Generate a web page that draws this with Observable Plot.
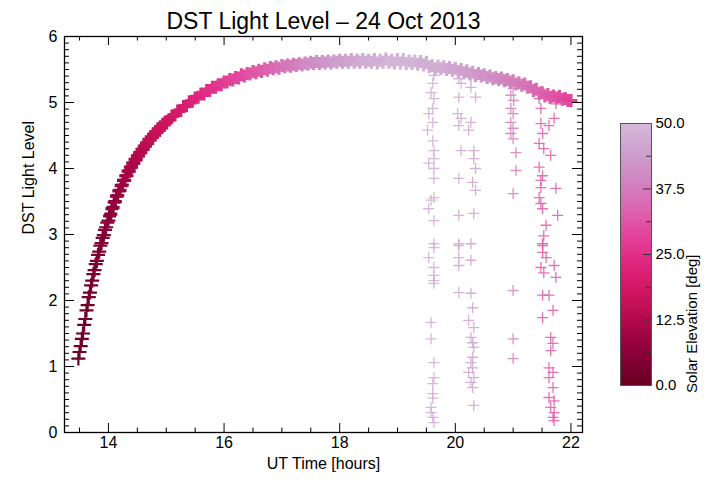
<!DOCTYPE html>
<html><head><meta charset="utf-8">
<script src="https://cdn.jsdelivr.net/npm/d3@7"></script>
<script src="https://cdn.jsdelivr.net/npm/@observablehq/plot@0.6"></script>
<style>
body{margin:0;background:#fff;}
#wrap{position:relative;width:721px;height:487px;}
#wrap svg{position:absolute;left:0;top:0;}
</style></head><body><div id="wrap"></div><script>
// ---------- data ----------
const titleText = "DST Light Level \u2013 24 Oct 2013";
const xLabel = "UT Time [hours]";
const yLabel = "DST Light Level";
const cbLabel = "Solar Elevation [deg]";

const xMajor = [14, 16, 18, 20, 22];
const xMinor = [13.5, 14.5, 15, 15.5, 16.5, 17, 17.5, 18.5, 19, 19.5, 20.5, 21, 21.5];
const yMajor = [0, 1, 2, 3, 4, 5, 6];
const cbMajor = [0, 12.5, 25, 37.5, 50];
const cbMinor = [6.25, 18.75, 31.25, 43.75];

const curveTime = [
 13.48,13.50,13.52,13.54,13.56,13.58,13.60,13.62,13.64,13.66,13.68,13.70,13.72,13.74,13.76,13.78,13.80,13.82,13.84,13.86,13.88,13.90,13.92,13.94,13.96,13.98,14.00,
 14.02,14.04,14.06,14.08,14.10,14.12,14.14,14.16,14.18,14.20,14.22,14.24,14.26,14.28,14.30,14.32,14.34,14.36,14.38,14.40,
 14.42,14.44,14.46,14.48,14.50,14.52,14.54,14.56,14.58,14.60,14.62,14.64,14.66,14.68,14.70,14.72,14.74,14.76,14.78,14.80,
 14.82,14.84,14.86,14.88,14.90,14.92,14.94,14.96,14.98,15.00,
 15.05,15.10,15.15,15.20,15.25,15.30,15.35,15.40,15.45,15.50,
 15.55,15.60,15.65,15.70,15.75,15.80,15.85,15.90,15.95,16.00,
 16.05,16.10,16.15,16.20,16.25,16.30,16.35,16.40,16.45,16.50,
 16.55,16.60,16.65,16.70,16.75,16.80,16.85,16.90,16.95,17.00,
 17.05,17.10,17.15,17.20,17.25,17.30,17.35,17.40,17.45,17.50,
 17.55,17.60,17.65,17.70,17.75,17.80,17.85,17.90,17.95,18.00,
 18.05,18.10,18.15,18.20,18.25,18.30,18.35,18.40,18.45,18.50,
 18.55,18.60,18.65,18.70,18.75,18.80,18.85,18.90,18.95,19.00,
 19.05,19.10,19.15,19.20,19.25,19.30,19.35,19.40,19.45,19.50,
 19.55,19.60,19.65,19.70,19.75,19.80,19.85,19.90,19.95,20.00,
 20.05,20.10,20.15,20.20,20.25,20.30,20.35,20.40,20.45,20.50,
 20.55,20.60,20.65,20.70,20.75,20.80,20.85,20.90,20.95,21.00,
 21.05,21.10,21.15,21.20,21.25,21.30,21.35,21.40,21.45,21.50,
 21.55,21.60,21.65,21.70,21.75,21.80,21.85,21.90,21.95,22.00
];
const curveLevel = [
 1.12,1.22,1.31,1.42,1.50,1.63,1.72,1.85,1.93,2.05,2.12,2.23,2.30,2.40,2.46,2.55,2.60,2.69,2.74,2.83,2.87,2.95,2.99,3.07,3.11,3.18,3.21,
 3.28,3.31,3.39,3.41,3.49,3.50,3.58,3.59,3.66,3.67,3.74,3.75,3.82,3.82,3.89,3.89,3.96,3.96,4.02,4.02,
 4.08,4.08,4.14,4.13,4.19,4.19,4.24,4.24,4.29,4.29,4.34,4.34,4.39,4.38,4.44,4.43,4.48,4.47,4.52,4.51,
 4.56,4.55,4.60,4.58,4.63,4.62,4.67,4.66,4.70,4.69,
 4.74,4.79,4.81,4.87,4.88,4.94,4.95,5.01,5.02,5.07,
 5.08,5.13,5.13,5.18,5.18,5.23,5.23,5.27,5.27,5.31,
 5.31,5.35,5.34,5.38,5.37,5.42,5.40,5.44,5.43,5.47,
 5.45,5.49,5.47,5.51,5.49,5.53,5.51,5.54,5.52,5.56,
 5.54,5.57,5.55,5.58,5.56,5.59,5.57,5.60,5.58,5.61,
 5.59,5.62,5.59,5.62,5.60,5.63,5.60,5.63,5.61,5.64,
 5.61,5.64,5.61,5.65,5.61,5.64,5.61,5.65,5.61,5.64,
 5.61,5.65,5.60,5.64,5.61,5.66,5.61,5.64,5.60,5.65,
 5.60,5.65,5.59,5.63,5.59,5.63,5.58,5.62,5.57,5.61,
 5.54,5.56,5.51,5.55,5.51,5.54,5.50,5.53,5.49,5.52,
 5.47,5.50,5.45,5.48,5.43,5.46,5.41,5.44,5.40,5.42,
 5.38,5.40,5.36,5.38,5.35,5.37,5.33,5.35,5.31,5.33,
 5.28,5.30,5.26,5.28,5.23,5.24,5.18,5.20,5.14,5.15,
 5.10,5.12,5.08,5.10,5.07,5.09,5.05,5.06,5.03,5.03
];
const curveElev = [
 1,1,1,1,2,2,2,2,2,3,3,3,3,3,4,4,4,4,4,5,5,5,5,5,6,6,6,
 6,6,7,7,7,7,8,8,8,8,9,9,9,9,10,10,10,10,11,11,
 11,11,12,12,12,12,12,13,13,13,13,14,14,14,14,15,15,15,15,15,
 16,16,16,16,16,17,17,17,17,17,
 18,18,19,19,20,20,21,21,22,22,
 23,23,24,24,25,25,26,26,27,27,
 27,28,28,29,29,29,30,30,31,31,
 31,32,32,33,33,34,34,35,35,36,
 36,37,37,37,38,38,39,39,40,40,
 40,41,41,42,42,42,43,43,44,44,
 44,45,45,45,46,46,46,47,47,47,
 47,48,48,48,48,48,49,49,49,49,
 49,49,49,49,49,49,48,48,48,48,
 48,48,47,47,47,47,47,46,46,46,
 46,45,45,44,44,44,43,43,42,42,
 42,41,41,40,40,40,39,39,38,38,
 38,37,37,36,36,35,35,34,34,33,
 33,32,32,31,31,30,30,29,29,28
];

// cloud dropouts (time, level, solar elevation)
const dropTime = [
 19.63,19.61,19.58,19.63,19.61,19.54,19.61,19.52,19.61,19.63,19.63,19.54,19.63,19.63,19.63,19.58,19.54,19.63,19.63,19.63,19.54,19.63,19.63,19.63,19.63,19.58,19.58,19.63,19.63,19.61,19.61,19.61,19.58,19.58,19.61,19.63,
 20.06,20.10,20.06,20.04,20.10,20.06,20.10,20.06,20.06,20.06,20.06,20.06,20.06,20.06,
 20.27,20.27,20.35,20.27,20.23,20.32,20.32,20.35,20.30,20.35,20.32,20.27,20.27,20.27,20.30,20.23,20.32,20.27,20.30,20.32,20.30,20.27,20.30,20.23,20.32,20.27,20.30,20.32,
 21.00,20.96,21.01,20.96,21.00,20.96,21.00,20.96,21.00,21.05,21.05,21.00,21.00,21.00,21.00,
 21.53,21.45,21.62,21.74,21.48,21.71,21.48,21.62,21.51,21.45,21.53,21.65,21.45,21.51,21.48,21.48,21.74,21.45,21.48,21.51,21.77,21.57,21.53,21.51,21.51,21.51,21.57,21.48,21.71,21.53,21.74,21.51,21.62,21.69,21.51,21.65,21.69,21.65,21.62,21.69,21.62,21.69,21.62,21.71,21.65,21.71,21.69,21.71
];
const dropLevel = [
 5.41,5.29,5.15,5.06,4.91,4.83,4.70,4.58,4.42,4.27,4.15,4.08,4.00,3.85,3.56,3.52,3.39,3.21,2.86,2.80,2.65,2.50,2.38,2.30,2.26,1.67,1.42,1.06,0.83,0.74,0.59,0.52,0.38,0.30,0.23,0.15,
 5.36,5.29,5.08,4.83,4.76,4.65,4.27,3.85,3.29,2.86,2.83,2.65,2.53,2.12,
 5.38,5.23,5.08,4.70,4.58,4.27,4.15,4.00,3.79,3.67,3.32,2.86,2.61,2.11,1.89,1.70,1.59,1.44,1.36,1.29,1.14,1.06,0.98,0.91,0.83,0.76,0.68,0.41,
 5.21,5.11,5.03,4.91,4.83,4.70,4.61,4.53,4.45,4.24,3.97,3.62,2.15,1.42,1.12,
 5.14,5.06,5.06,4.98,4.91,4.76,4.68,4.65,4.53,4.38,4.30,4.20,4.02,3.89,3.82,3.71,3.70,3.56,3.47,3.39,3.29,3.14,2.98,2.86,2.83,2.73,2.65,2.50,2.53,2.42,2.35,2.08,2.08,1.85,1.74,1.44,1.35,1.24,0.98,0.91,0.83,0.68,0.53,0.48,0.38,0.30,0.23,0.18
];
const dropElev = [
 47,47,47,47,47,47,47,47,47,47,47,47,47,47,47,47,47,47,47,47,47,47,47,47,47,47,47,47,47,47,47,47,47,47,47,47,
 46,46,46,46,46,46,46,46,46,46,46,46,46,46,
 45,45,45,45,45,45,45,45,45,45,45,45,45,45,45,45,45,45,45,45,45,45,45,45,45,45,45,45,
 38,38,38,38,38,38,38,38,38,38,38,38,38,38,38,
 32,32,32,32,32,32,32,32,32,32,32,32,32,32,32,32,32,32,32,32,32,32,32,32,32,32,32,32,32,32,32,32,32,32,32,32,32,32,32,32,32,32,32,32,32,32,32,32
];

// ---------- layout ----------
const W = 721, H = 487;
const mL = 64, mR = 139, mT = 36, mB = 55;
const pw = W - mL - mR, ph = H - mT - mB;
const font = "'Liberation Sans', Arial, Helvetica, sans-serif";

const colorOpts = {type: "linear", domain: [0, 50], interpolate: t => d3.interpolatePuRd(1 - 0.75 * t)};
const cross = {draw(ctx, size) { const r = Math.sqrt(size / Math.PI); ctx.moveTo(-r, 0); ctx.lineTo(r, 0); ctx.moveTo(0, -r); ctx.lineTo(0, r); }};

const curve = curveTime.map((t, i) => ({t, v: curveLevel[i], e: curveElev[i]}));
const steep = curve.filter(d => d.t <= 14.0);
const flat = curve.filter(d => d.t > 14.0);
const drops = dropTime.map((t, i) => ({t, v: dropLevel[i], e: dropElev[i]}));
const yMinor = d3.range(0, 60).map(i => i / 10).filter(v => !Number.isInteger(v));

const main = Plot.plot({
  width: W, height: H, marginLeft: mL, marginRight: mR, marginTop: mT, marginBottom: mB,
  x: {domain: [13.24, 22.2], axis: null},
  y: {domain: [0, 6], axis: null},
  color: colorOpts,
  style: {fontFamily: font, background: "white", color: "black"},
  marks: [
    Plot.dot(steep, {x: "t", y: "v", stroke: "e", fill: "none", symbol: cross, r: 7, strokeWidth: 2.2}),
    Plot.dot(flat, {x: "t", y: "v", stroke: "e", fill: "none", symbol: cross, r: 6.5, strokeWidth: 3.2}),
    Plot.dot(drops, {x: "t", y: "v", stroke: "e", fill: "none", symbol: cross, r: 5.5, strokeWidth: 1.3, strokeOpacity: 0.85}),
    // inward ticks on all four sides
    Plot.tickX(xMajor, {x: d => d, insetTop: ph - 9, stroke: "black"}),
    Plot.tickX(xMajor, {x: d => d, insetBottom: ph - 9, stroke: "black"}),
    Plot.tickX(xMinor, {x: d => d, insetTop: ph - 4.5, stroke: "black"}),
    Plot.tickX(xMinor, {x: d => d, insetBottom: ph - 4.5, stroke: "black"}),
    Plot.tickY(yMajor, {y: d => d, insetRight: pw - 10, stroke: "black"}),
    Plot.tickY(yMajor, {y: d => d, insetLeft: pw - 10, stroke: "black"}),
    Plot.tickY(yMinor, {y: d => d, insetRight: pw - 5, stroke: "black"}),
    Plot.tickY(yMinor, {y: d => d, insetLeft: pw - 5, stroke: "black"}),
    Plot.frame({stroke: "black", strokeWidth: 1.3}),
    // tick labels
    Plot.text(xMajor, {x: d => d, text: d => String(d), frameAnchor: "bottom", dy: 15, fontSize: 16, fill: "black"}),
    Plot.text(yMajor, {y: d => d, text: d => String(d), frameAnchor: "left", dx: -7, textAnchor: "end", fontSize: 16, fill: "black"}),
    // titles
    Plot.text([xLabel], {frameAnchor: "bottom", dy: 36, fontSize: 16, fill: "black"}),
    Plot.text([yLabel], {frameAnchor: "left", dx: -36, rotate: -90, fontSize: 16, fill: "black"}),
    Plot.text([titleText], {frameAnchor: "top", dy: -24, fontSize: 23, fill: "black"})
  ]
});

// colorbar
const cbL = 620, cbR = 651, cbT = 123, cbB = 385;
const cbw = cbR - cbL;
const bar = Plot.plot({
  width: W, height: H, marginLeft: cbL, marginRight: W - cbR, marginTop: cbT, marginBottom: H - cbB,
  x: {domain: [0, 1], axis: null},
  y: {domain: [0, 50], axis: null},
  color: colorOpts,
  style: {fontFamily: font, background: "transparent", color: "black", overflow: "visible"},
  marks: [
    Plot.raster({x1: 0, x2: 1, y1: 0, y2: 50, fill: (x, y) => y, pixelSize: 1}),
    Plot.tickY(cbMajor.slice(1, 4), {y: d => d, insetLeft: cbw - 8, stroke: "#333"}),
    Plot.tickY(cbMinor, {y: d => d, insetLeft: cbw - 5, stroke: "#333"}),
    Plot.frame({stroke: "#555"}),
    Plot.text(cbMajor, {y: d => d, text: d => d.toFixed(1), frameAnchor: "right", dx: 4, textAnchor: "start", fontSize: 15, fill: "black"}),
    Plot.text([cbLabel], {frameAnchor: "right", dx: 41, rotate: -90, fontSize: 15, fill: "black"})
  ]
});

const wrap = document.getElementById("wrap");
wrap.appendChild(main);
wrap.appendChild(bar);
</script></body></html>
